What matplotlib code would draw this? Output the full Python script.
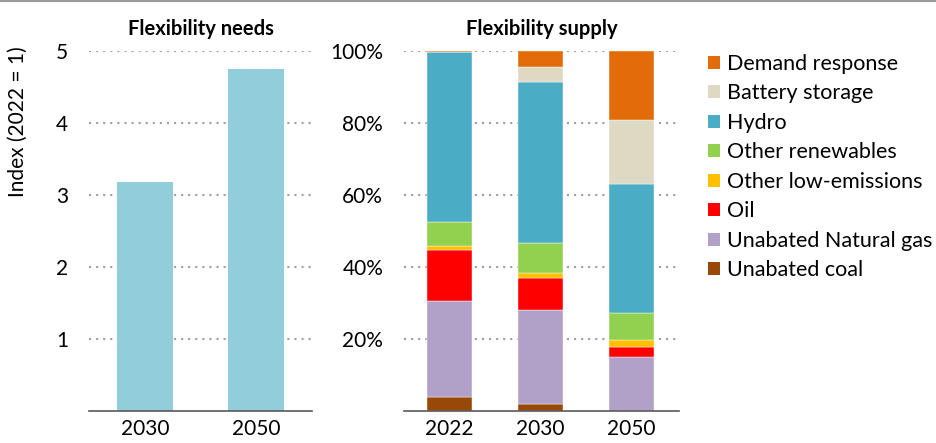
import numpy as np
import matplotlib
matplotlib.use("Agg")
import matplotlib.pyplot as plt
from matplotlib.patches import Patch
from matplotlib.lines import Line2D
from matplotlib.ticker import PercentFormatter

plt.rcParams['font.family'] = ['Lato', 'DejaVu Sans']

# left panel: flexibility needs index
need_years = ["2030", "2050"]
need_index = [3.17, 4.75]

# right panel: flexibility supply shares (%)
supply_years = ["2022", "2030", "2050"]
coal = [3.9, 1.9, 0.0]
gas = [26.6, 26.1, 14.9]
oil = [14.1, 9.0, 2.8]
low_em = [1.1, 1.2, 2.0]
renew = [6.6, 8.5, 7.4]
hydro = [47.4, 44.6, 35.8]
battery = [0.0, 4.3, 17.8]
demand = [0.3, 4.4, 19.3]

series = [
    ("Unabated coal", coal, "#984807"),
    ("Unabated Natural gas", gas, "#B1A0C7"),
    ("Oil", oil, "#FF0000"),
    ("Other low-emissions", low_em, "#FFC000"),
    ("Other renewables", renew, "#92D050"),
    ("Hydro", hydro, "#4BACC6"),
    ("Battery storage", battery, "#DDD9C3"),
    ("Demand response", demand, "#E36C0A"),
]

W, H = 936, 443
fig = plt.figure(figsize=(W / 100, H / 100), dpi=100)

bot = (H - 410.7) / H
hgt = 360 / H
ax1 = fig.add_axes([89 / W, bot, 223 / W, hgt])
ax2 = fig.add_axes([404 / W, bot, 275 / W, hgt])

grid_kw = dict(color="#A0A0A0", linewidth=1.5, linestyle=(0, (1, 2.4)))

def style(ax):
    for s in ["top", "right", "left"]:
        ax.spines[s].set_visible(False)
    ax.spines["bottom"].set_color("#595959")
    ax.spines["bottom"].set_linewidth(1.2)
    ax.tick_params(axis="both", length=0, labelsize=15, colors="black")
    ax.tick_params(axis="y", pad=15)
    ax.tick_params(axis="x", pad=6)
    ax.set_axisbelow(True)
    ax.yaxis.grid(True, **grid_kw)
    ax.xaxis.grid(False)

# needs
x1 = np.arange(len(need_years))
ax1.bar(x1, need_index, width=0.5, color="#92CDDC")
ax1.set_xlim(-0.5, 1.5)
ax1.set_ylim(0, 5)
ax1.set_yticks([1, 2, 3, 4, 5])
ax1.set_xticks(x1)
ax1.set_xticklabels(need_years)
style(ax1)
ax1.set_title("Flexibility needs", fontsize=14.5, fontweight="bold", pad=11)

# supply
x2 = np.arange(len(supply_years))
bottom = np.zeros(len(supply_years))
for name, vals, col in series:
    v = np.array(vals) / 100
    ax2.bar(x2, v, bottom=bottom, width=0.5, color=col, edgecolor="white", linewidth=0.3)
    bottom += v
ax2.set_xlim(-0.5, 2.52)
ax2.set_ylim(0, 1)
ax2.set_yticks([0.2, 0.4, 0.6, 0.8, 1.0])
ax2.yaxis.set_major_formatter(PercentFormatter(1.0, decimals=0))
ax2.set_xticks(x2)
ax2.set_xticklabels(supply_years)
style(ax2)
ax2.set_title("Flexibility supply", fontsize=14.5, fontweight="bold", pad=11)

fig.text(18 / W, 1 - 122 / H, "Index (2022 = 1)", rotation=90, ha="center", va="center", fontsize=15)

handles = [Patch(facecolor=c, edgecolor="none", label=n) for n, _, c in reversed(series)]
fig.legend(handles=handles, loc="upper left", bbox_to_anchor=(708 / W, 1 - 54 / H),
           frameon=False, fontsize=15.5, handlelength=0.55, handleheight=0.55,
           handletextpad=0.35, labelspacing=0.44, borderpad=0, borderaxespad=0)

fig.add_artist(Line2D([0, 1], [1 - 1 / H, 1 - 1 / H], color="#9A9A9A", linewidth=1.5,
                      transform=fig.transFigure))

fig.savefig("out.png", dpi=100)
